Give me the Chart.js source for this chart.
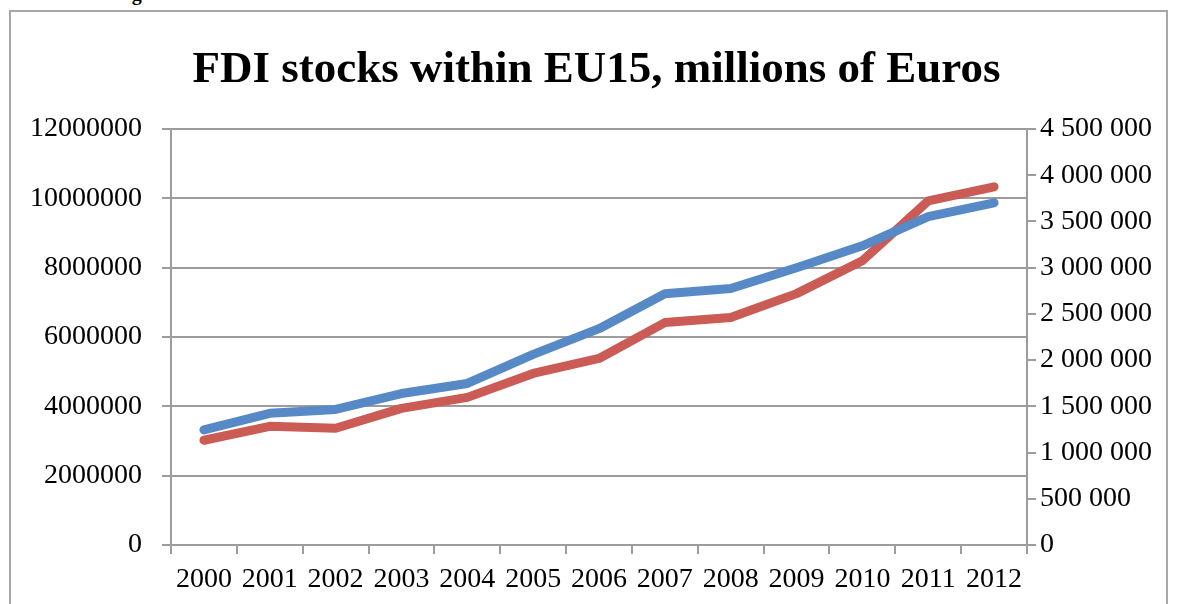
<!DOCTYPE html>
<html>
<head>
<meta charset="utf-8">
<script src="https://cdn.jsdelivr.net/npm/chart.js@4.4.0/dist/chart.umd.min.js"></script>
<style>
  html, body { margin: 0; padding: 0; background: #fff; }
  #wrap { position: relative; width: 1183px; height: 604px; overflow: hidden; }
  #frame { position: absolute; left: 9px; top: 10px; width: 1159px; height: 700px; border: 2px solid #a6a6a6; box-sizing: border-box; }
  #caption { position: absolute; left: 114px; top: -17px; font: bold 20px "Liberation Serif", serif; line-height: 20px; color: #000; }
  canvas { position: absolute; left: 0; top: 0; }
</style>
</head>
<body>
<div id="wrap">
  <div id="caption">Figure</div>
  <div id="frame"></div>
  <canvas id="chart" width="1183" height="604"></canvas>
</div>
<script>
const years = ['2000', '2001', '2002', '2003', '2004', '2005', '2006',
  '2007', '2008', '2009', '2010', '2011', '2012'];

// blue series, left axis
const stocksLeft = [3320000, 3800000, 3910000, 4370000, 4660000, 5500000, 6240000,
  7250000, 7400000, 8000000, 8630000, 9470000, 9870000];

// red series, right axis
const stocksRight = [1133000, 1284000, 1263000, 1478000, 1597000, 1856000, 2018000,
  2406000, 2460000, 2719000, 3075000, 3723000, 3874000];

const leftMax = 12000000, leftStep = 2000000;
const rightMax = 4500000, rightStep = 500000;

const gridGray = '#9c9c9c';
const tickFont = { family: '"Liberation Serif", serif', size: 28 };

function spaced(v) {
  return String(v).replace(/\B(?=(\d{3})+(?!\d))/g, ' ');
}

const ctx = document.getElementById('chart').getContext('2d');
new Chart(ctx, {
  type: 'line',
  data: {
    labels: years,
    datasets: [
      {
        data: stocksLeft,
        yAxisID: 'y',
        borderColor: '#5689c6',
        borderWidth: 9,
        borderCapStyle: 'round',
        borderJoinStyle: 'round',
        pointRadius: 0,
        tension: 0
      },
      {
        data: stocksRight,
        yAxisID: 'y1',
        borderColor: '#cb5b55',
        borderWidth: 9,
        borderCapStyle: 'round',
        borderJoinStyle: 'round',
        pointRadius: 0,
        tension: 0
      }
    ]
  },
  options: {
    responsive: false,
    animation: false,
    layout: { padding: { left: 20, right: 10, top: 12, bottom: 0 } },
    plugins: {
      legend: { display: false },
      tooltip: { enabled: false },
      title: {
        display: true,
        text: 'FDI stocks within EU15, millions of Euros',
        color: '#000',
        font: { family: '"Liberation Serif", serif', size: 45, weight: 'bold' },
        padding: { top: 31, bottom: 32 }
      }
    },
    scales: {
      x: {
        offset: true,
        grid: { offset: true, drawOnChartArea: false, drawTicks: true, tickLength: 9, color: gridGray, lineWidth: 2 },
        border: { color: gridGray, width: 2 },
        ticks: { color: '#000', font: tickFont, padding: 9, maxRotation: 0, autoSkip: false },
        afterFit: s => { s.height = 59; }
      },
      y: {
        position: 'left',
        min: 0,
        max: leftMax,
        grid: { color: gridGray, lineWidth: 2, tickLength: 9 },
        border: { color: gridGray, width: 2 },
        ticks: { stepSize: leftStep, color: '#000', font: tickFont, padding: 20, callback: v => String(v) },
        afterFit: s => { s.width = 151; }
      },
      y1: {
        position: 'right',
        min: 0,
        max: rightMax,
        grid: { drawOnChartArea: false, color: gridGray, lineWidth: 2, tickLength: 9 },
        border: { color: gridGray, width: 2 },
        ticks: { stepSize: rightStep, color: '#000', font: tickFont, padding: 4, callback: v => spaced(v) },
        afterFit: s => { s.width = 146; }
      }
    }
  }
});
</script>
</body>
</html>
